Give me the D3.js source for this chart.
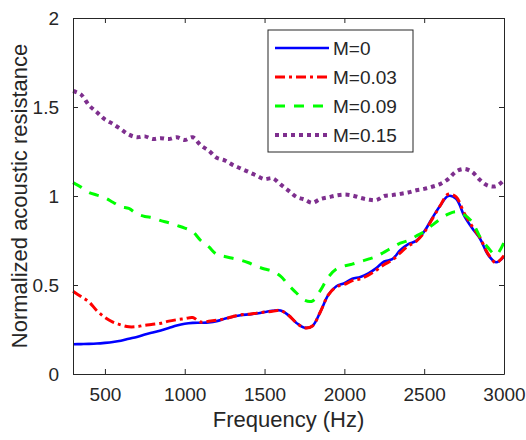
<!DOCTYPE html>
<html>
<head>
<meta charset="utf-8">
<script src="https://cdn.jsdelivr.net/npm/d3@7"></script>
<style>
  body { margin: 0; background: #fff; }
  text { font-family: "Liberation Sans", Arial, sans-serif; fill: #262626; }
</style>
</head>
<body>
<svg width="526" height="440"></svg>
<script>
// frequency grid (Hz)
const freq = d3.range(300, 3001, 50);

const m000 = [0.167, 0.168, 0.169, 0.171, 0.175, 0.18, 0.187, 0.198, 0.208, 0.222,
  0.233, 0.245, 0.258, 0.272, 0.282, 0.287, 0.288, 0.29, 0.297, 0.31,
  0.322, 0.33, 0.335, 0.34, 0.348, 0.355, 0.357, 0.33, 0.287, 0.26,
  0.27, 0.35, 0.445, 0.493, 0.51, 0.535, 0.545, 0.565, 0.595, 0.632,
  0.645, 0.695, 0.73, 0.748, 0.8, 0.875, 0.945, 1.0, 0.985, 0.89,
  0.82, 0.76, 0.67, 0.628, 0.66];

const m003 = [0.465, 0.435, 0.405, 0.355, 0.318, 0.292, 0.276, 0.265, 0.266, 0.274,
  0.279, 0.285, 0.297, 0.305, 0.311, 0.317, 0.292, 0.296, 0.302, 0.31,
  0.322, 0.333, 0.336, 0.342, 0.348, 0.352, 0.357, 0.33, 0.287, 0.26,
  0.27, 0.35, 0.445, 0.49, 0.503, 0.525, 0.535, 0.555, 0.583, 0.615,
  0.64, 0.68, 0.72, 0.745, 0.795, 0.87, 0.945, 1.01, 0.995, 0.905,
  0.83, 0.765, 0.675, 0.625, 0.665];

const m009 = [1.075, 1.05, 1.02, 1.005, 0.99, 0.965, 0.94, 0.93, 0.9, 0.885,
  0.878, 0.862, 0.85, 0.835, 0.82, 0.8, 0.75, 0.715, 0.672, 0.66,
  0.65, 0.64, 0.625, 0.605, 0.59, 0.578, 0.55, 0.5, 0.455, 0.415,
  0.41, 0.47, 0.545, 0.59, 0.607, 0.617, 0.632, 0.645, 0.66, 0.685,
  0.71, 0.735, 0.75, 0.775, 0.8, 0.836, 0.87, 0.898, 0.912, 0.895,
  0.855, 0.77, 0.71, 0.67, 0.74];

const m015 = [1.59, 1.57, 1.51, 1.47, 1.43, 1.405, 1.375, 1.345, 1.33, 1.335,
  1.32, 1.325, 1.32, 1.33, 1.315, 1.33, 1.285, 1.255, 1.215, 1.2,
  1.175, 1.155, 1.135, 1.115, 1.095, 1.1, 1.065, 1.03, 0.995, 0.98,
  0.962, 0.983, 0.993, 1.003, 1.008, 1.003, 0.99, 0.98, 0.977, 1.0,
  1.005, 1.012, 1.02, 1.032, 1.04, 1.052, 1.067, 1.095, 1.138, 1.152,
  1.135, 1.09, 1.058, 1.055, 1.09];

const seriesNames = ['M=0', 'M=0.03', 'M=0.09', 'M=0.15'];
const xTicks = [500, 1000, 1500, 2000, 2500, 3000];
const yTicks = [0, 0.5, 1, 1.5, 2];
const yTickLabels = ['0', '0.5', '1', '1.5', '2'];

const styles = [
    { color: '#0000ff', dash: null, width: 2.6 },
    { color: '#ff0000', dash: '10,4,3,4', width: 3 },
    { color: '#00ff00', dash: '10,9', width: 3 },
    { color: '#7e2f8e', dash: '4,4', width: 4 },
];
const seriesValues = [m000, m003, m009, m015];

const svg = d3.select('svg');
const margin = {
    top: 18, right: 22, bottom: 66, left: 73,
};
const width = +svg.attr('width') - margin.left - margin.right;
const height = +svg.attr('height') - margin.top - margin.bottom;

const x = d3.scaleLinear().domain([300, 3000]).range([0, width]);
const y = d3.scaleLinear().domain([0, 2]).range([height, 0]);

const g = svg.append('g').attr('transform', `translate(${margin.left},${margin.top})`);

const line = d3.line()
    .x((d, i) => x(freq[i]))
    .y(d => y(d))
    .curve(d3.curveCatmullRom);

// curves (drawn first so the box sits on top)
seriesValues.forEach((vals, i) => {
    g.append('path')
        .datum(vals)
        .attr('d', line)
        .attr('fill', 'none')
        .attr('stroke', styles[i].color)
        .attr('stroke-width', styles[i].width)
        .attr('stroke-dasharray', styles[i].dash)
        .attr('stroke-linejoin', 'round');
});

// axes with inward ticks on all four sides
const fmtY = d => yTickLabels[yTicks.indexOf(d)];
const styleAxis = sel => {
    sel.select('.domain').attr('stroke', '#262626').attr('stroke-width', 1);
    sel.selectAll('.tick line').attr('stroke', '#262626');
    sel.selectAll('.tick text').style('font-size', '19px').attr('fill', '#262626');
};

g.append('g')
    .attr('transform', `translate(0,${height})`)
    .call(d3.axisBottom(x).tickValues(xTicks).tickSizeInner(-5).tickSizeOuter(0).tickPadding(14).tickFormat(d3.format('d')))
    .call(styleAxis);

g.append('g')
    .call(d3.axisTop(x).tickValues(xTicks).tickSizeInner(-5).tickSizeOuter(0).tickFormat(''))
    .call(styleAxis);

g.append('g')
    .call(d3.axisLeft(y).tickValues(yTicks).tickSizeInner(-5).tickSizeOuter(0).tickPadding(14).tickFormat(fmtY))
    .call(styleAxis);

g.append('g')
    .attr('transform', `translate(${width},0)`)
    .call(d3.axisRight(y).tickValues(yTicks).tickSizeInner(-5).tickSizeOuter(0).tickFormat(''))
    .call(styleAxis);

g.selectAll('text').attr('font-family', '"Liberation Sans", Arial, sans-serif');

// axis labels
svg.append('text')
    .attr('x', margin.left + width / 2)
    .attr('y', 427)
    .attr('text-anchor', 'middle')
    .style('font-size', '22px')
    .text('Frequency (Hz)');

svg.append('text')
    .attr('transform', `translate(27,${margin.top + height / 2}) rotate(-90)`)
    .attr('text-anchor', 'middle')
    .style('font-size', '22px')
    .text('Normalized acoustic resistance');

// legend
const legend = svg.append('g').attr('transform', 'translate(268,30)');
legend.append('rect')
    .attr('width', 145)
    .attr('height', 122)
    .attr('fill', '#fff')
    .attr('stroke', '#262626')
    .attr('stroke-width', 1);

seriesNames.forEach((name, i) => {
    const row = legend.append('g').attr('transform', `translate(0,${18 + i * 29})`);
    row.append('line')
        .attr('x1', 7).attr('x2', 61)
        .attr('y1', 0).attr('y2', 0)
        .attr('stroke', styles[i].color)
        .attr('stroke-width', styles[i].width)
        .attr('stroke-dasharray', styles[i].dash);
    row.append('text')
        .attr('x', 65)
        .attr('dy', '0.36em')
        .style('font-size', '19px')
        .text(name);
});
</script>
</body>
</html>
